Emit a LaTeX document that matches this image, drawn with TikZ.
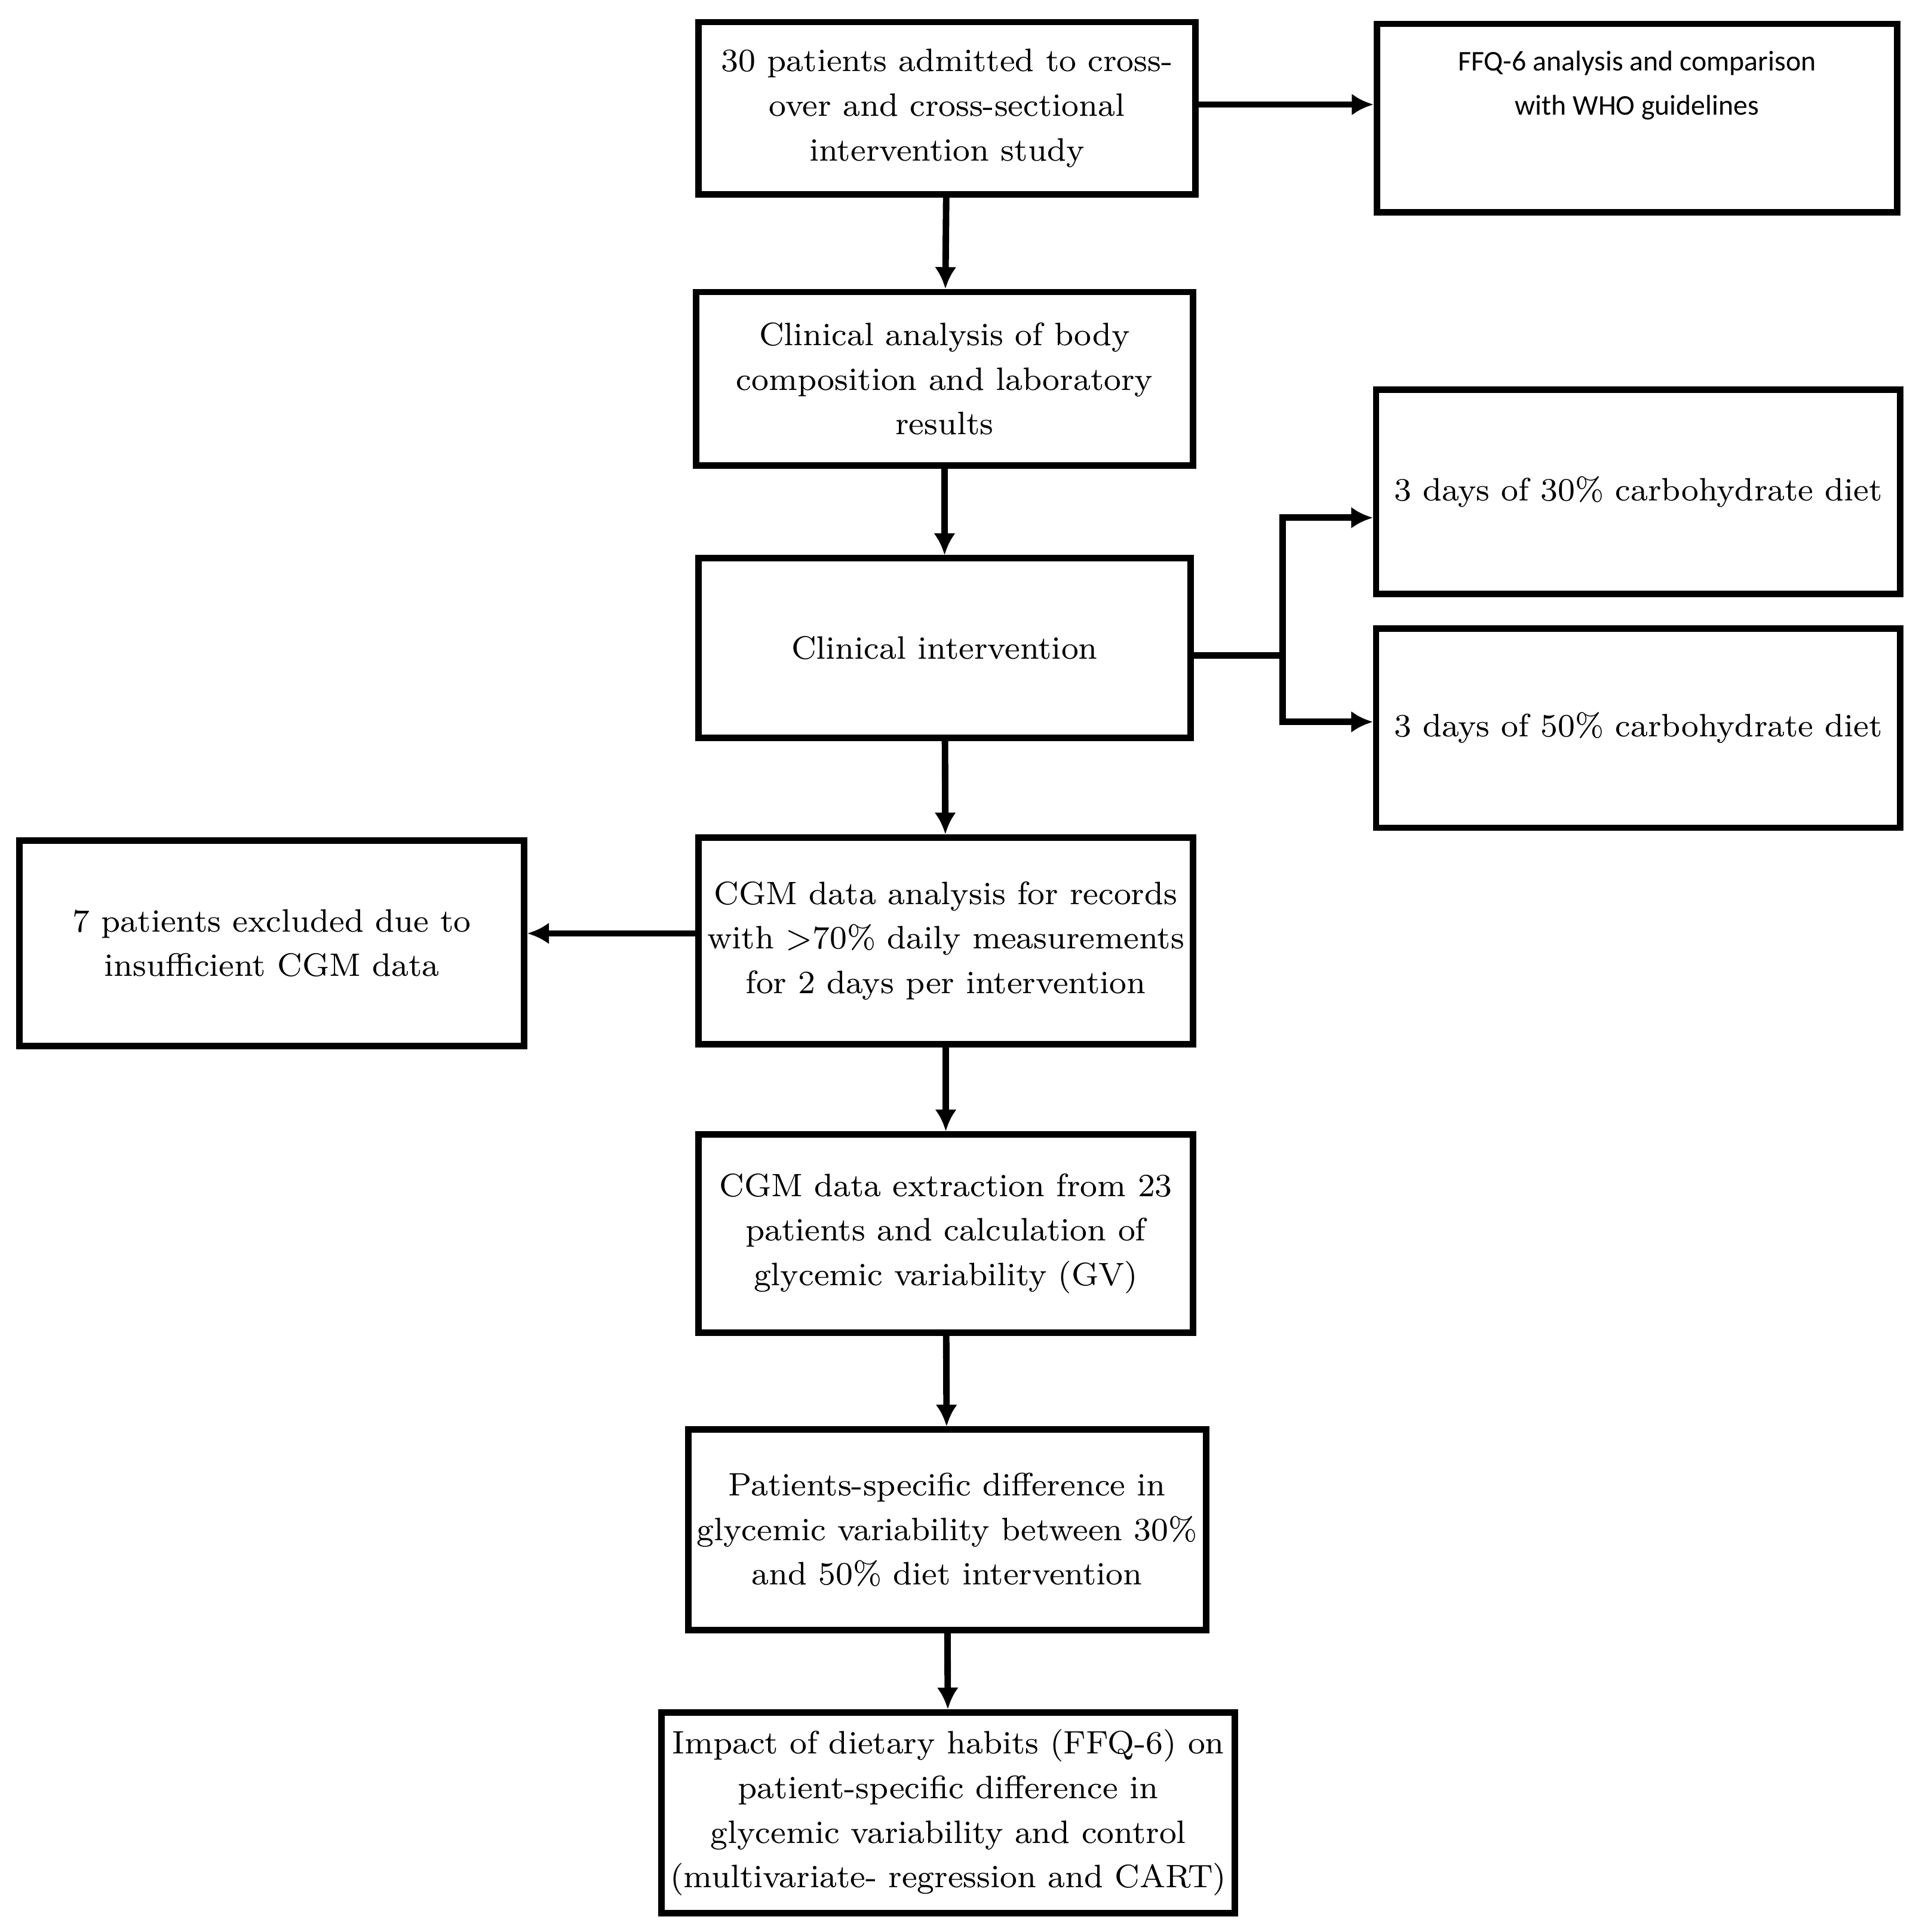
\documentclass[tikz,border=0pt]{standalone}
\usepackage{fontspec}
\newfontfamily\carl{Carlito}
\usetikzlibrary{arrows.meta}
\tikzset{
  box/.style={draw, line width=1.5pt, align=center, inner sep=2pt,
    font=\fontsize{7.5}{10.3}\selectfont},
  flow/.style={-{Latex[length=5pt,width=5pt]}, line width=1.5pt}
}
\begin{document}
\begin{tikzpicture}[x=0.01cm,y=-0.01cm]
\useasboundingbox (0,0) rectangle (1560,1571);
\node[box, minimum width=4.04cm, minimum height=1.40cm] (adm) at (770,88) {30 patients admitted to cross-\\over and cross-sectional\\intervention study};
\node[box, minimum width=4.23cm, minimum height=1.53cm, font=\carl\fontsize{6.6}{10.3}\selectfont] (ffq) at (1331,96) {FFQ-6 analysis and comparison\\with WHO guidelines\\[0.9em]};
\node[box, minimum width=4.04cm, minimum height=1.41cm] (clin) at (768,308) {Clinical analysis of body\\composition and laboratory\\results};
\node[box, minimum width=4.00cm, minimum height=1.46cm] (int) at (768,527) {Clinical intervention};
\node[box, minimum width=4.26cm, minimum height=1.66cm] (d30) at (1332,400) {3 days of 30\% carbohydrate diet};
\node[box, minimum width=4.26cm, minimum height=1.62cm] (d50) at (1332,592) {3 days of 50\% carbohydrate diet};
\node[box, minimum width=4.02cm, minimum height=1.68cm] (cgm) at (769,765) {CGM data analysis for records\\with >70\% daily measurements\\for 2 days per intervention};
\node[box, minimum width=4.10cm, minimum height=1.67cm] (excl) at (221,767) {7 patients excluded due to\\insufficient CGM data};
\node[box, minimum width=4.02cm, minimum height=1.61cm] (extr) at (769,1003) {CGM data extraction from 23\\patients and calculation of\\glycemic variability (GV)};
\node[box, minimum width=4.09cm, minimum height=1.63cm] (diff) at (770,1244) {Patients-specific difference in\\glycemic variability between 30\%\\and 50\% diet intervention};
\node[box, minimum width=4.21cm, minimum height=1.63cm] (imp) at (771,1474) {Impact of dietary habits (FFQ-6) on\\patient-specific difference in\\glycemic variability and control\\(multivariate- regression and CART)};
\coordinate (split) at (1043,533);
\draw[flow] (adm.east |- 0,85) -- (ffq.west |- 0,85);
\draw[flow] (adm) -- (clin);
\draw[flow] (clin) -- (int);
\draw[line width=1.5pt] (int.east |- split) -- (split);
\draw[flow] (split) |- (d30.west |- 0,421);
\draw[flow] (split) |- (d50.west |- 0,587);
\draw[flow] (int) -- (cgm);
\draw[flow] (cgm.west |- 0,759) -- (excl.east |- 0,759);
\draw[flow] (cgm) -- (extr);
\draw[flow] (extr) -- (diff);
\draw[flow] (diff) -- (imp);
\end{tikzpicture}
\end{document}
